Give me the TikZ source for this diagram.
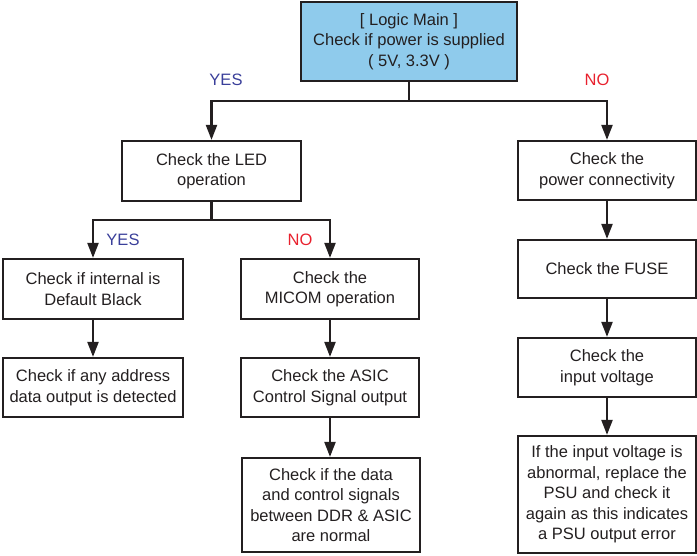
\documentclass[tikz,border=0pt]{standalone}
\usepackage{fontspec}
\setmainfont{Liberation Sans}
\usetikzlibrary{arrows.meta}
\definecolor{ink}{HTML}{231F20}
\definecolor{topfill}{HTML}{8FCBEC}
\definecolor{yescol}{HTML}{3A3F9A}
\definecolor{nocol}{HTML}{E8212E}
\tikzset{
  box/.style={draw=ink, line width=2.2pt, rectangle, align=center, text=ink,
    font=\fontsize{16.5}{20.5}\selectfont, inner sep=0pt, yshift=0pt},
  conn/.style={draw=ink, line width=2.2pt},
  arr/.style={conn, -{Triangle[length=15pt,width=11pt]}},
  yeslbl/.style={text=yescol, font=\fontsize{16.5}{20}\selectfont, inner sep=0pt},
  nolbl/.style={text=nocol, font=\fontsize{16.5}{20}\selectfont, inner sep=0pt}
}
\begin{document}
\begin{tikzpicture}[x=1pt,y=-1pt]
\useasboundingbox (0,0) rectangle (697,556);
\node[box, fill=topfill, minimum width=216pt, minimum height=79pt] (top) at (409,41.5)
  {[ Logic Main ]\\Check if power is supplied\\( 5V, 3.3V )};
\node[box, minimum width=179pt, minimum height=60pt] (led) at (211.5,171) {Check the LED\\operation};
\node[box, minimum width=180pt, minimum height=60pt] (db) at (93,289) {Check if internal is\\Default Black};
\node[box, minimum width=180pt, minimum height=59pt] (addr) at (93,387.5) {Check if any address\\data output is detected};
\node[box, minimum width=178pt, minimum height=60pt] (mic) at (330,289) {Check the\\MICOM operation};
\node[box, minimum width=178pt, minimum height=59pt] (asic) at (330,387.5) {Check the ASIC\\Control Signal output};
\node[box, minimum width=178pt, minimum height=94pt] (ddr) at (331,505) {Check if the data\\and control signals\\between DDR \& ASIC\\are normal};
\node[box, minimum width=178pt, minimum height=59pt] (pc) at (607,170.5) {Check the\\power connectivity};
\node[box, minimum width=178pt, minimum height=58pt] (fuse) at (607,269) {Check the FUSE};
\node[box, minimum width=178pt, minimum height=59pt] (iv) at (607,367.5) {Check the\\input voltage};
\node[box, minimum width=178pt, minimum height=117pt] (last) at (607,494.5) {If the input voltage is\\abnormal, replace the\\PSU and check it\\again as this indicates\\a PSU output error};

\draw[conn] (top.south) -- ++(0,19) coordinate (j1);
\draw[arr] (j1) -| (led.north);
\draw[arr] (j1) -| (pc.north);
\node[yeslbl] (y1) at (226,80) {YES};
\node[nolbl] (n1) at (597,80) {NO};

\draw[conn] (led.south) -- ++(0,18) coordinate (j2);
\draw[arr] (j2) -| (db.north);
\draw[arr] (j2) -| (mic.north);
\node[yeslbl] (y2) at (123,240) {YES};
\node[nolbl] (n2) at (300,240) {NO};

\draw[arr] (db) -- (addr);
\draw[arr] (mic) -- (asic);
\draw[arr] (asic.south) -- (asic.south |- ddr.north);
\draw[arr] (pc) -- (fuse);
\draw[arr] (fuse) -- (iv);
\draw[arr] (iv) -- (last);
\end{tikzpicture}
\end{document}
